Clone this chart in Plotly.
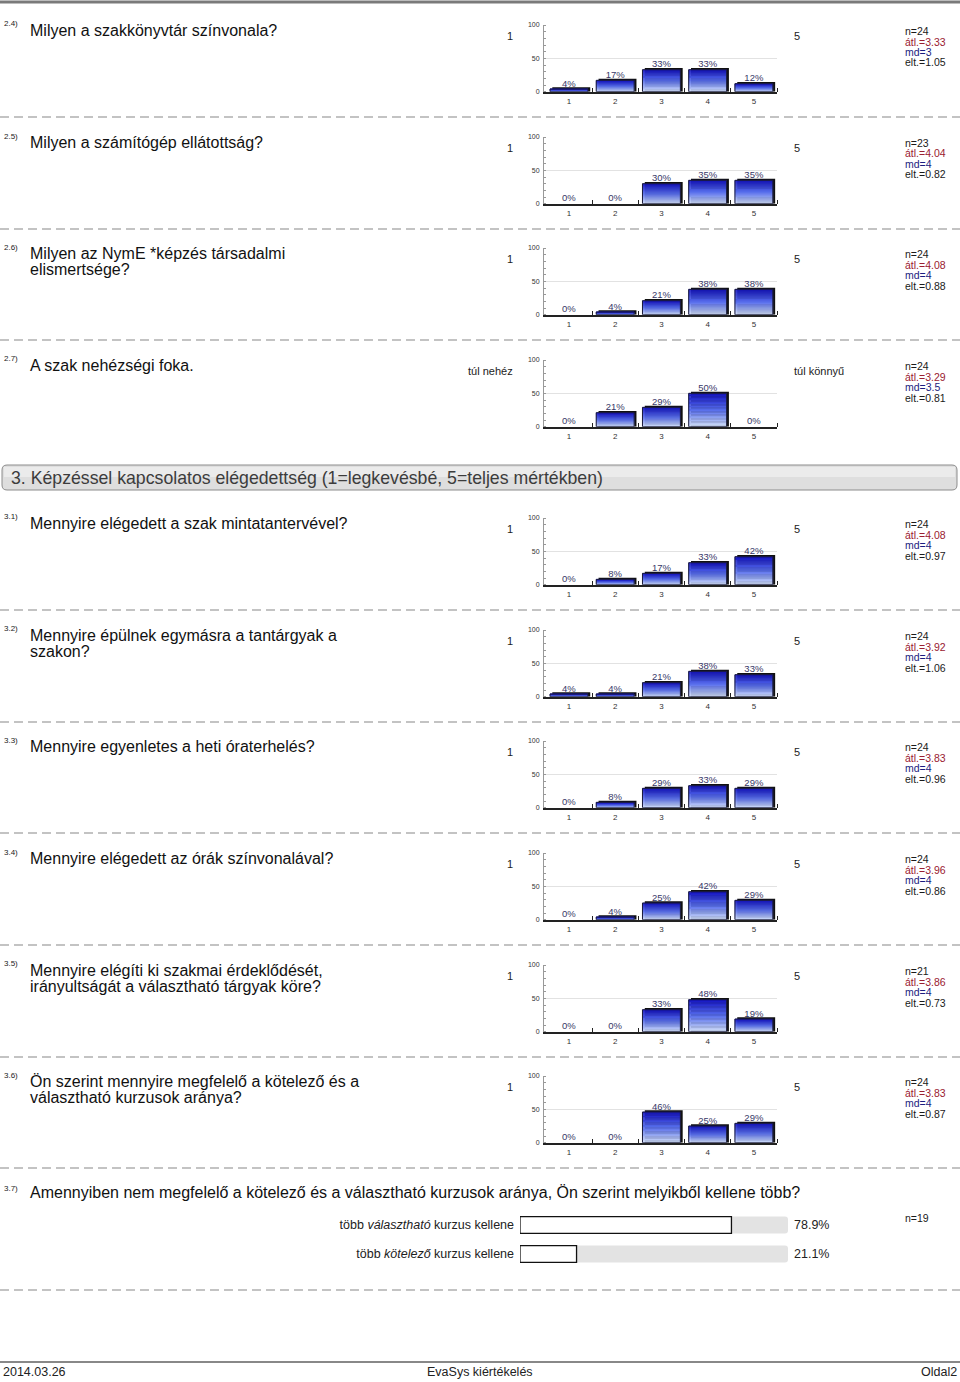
import plotly.graph_objects as go

W, H = 960, 1382
FONT = "Liberation Sans, Arial, sans-serif"

# ---------------- data ----------------
q_ids = ["2.4)", "2.5)", "2.6)", "2.7)", "3.1)", "3.2)", "3.3)", "3.4)", "3.5)", "3.6)"]
q_texts = [
    "Milyen a szakkönyvtár színvonala?",
    "Milyen a számítógép ellátottság?",
    "Milyen az NymE *képzés társadalmi\nelismertsége?",
    "A szak nehézségi foka.",
    "Mennyire elégedett a szak mintatantervével?",
    "Mennyire épülnek egymásra a tantárgyak a\nszakon?",
    "Mennyire egyenletes a heti óraterhelés?",
    "Mennyire elégedett az órák színvonalával?",
    "Mennyire elégíti ki szakmai érdeklődését,\nirányultságát a választható tárgyak köre?",
    "Ön szerint mennyire megfelelő a kötelező és a\nválasztható kurzusok aránya?",
]
left_labels = ["1", "1", "1", "túl nehéz", "1", "1", "1", "1", "1", "1"]
right_labels = ["5", "5", "5", "túl könnyű", "5", "5", "5", "5", "5", "5"]
categories = [1, 2, 3, 4, 5]
pct_values = [
    [4, 17, 33, 33, 12],
    [0, 0, 30, 35, 35],
    [0, 4, 21, 38, 38],
    [0, 21, 29, 50, 0],
    [0, 8, 17, 33, 42],
    [4, 4, 21, 38, 33],
    [0, 8, 29, 33, 29],
    [0, 4, 25, 42, 29],
    [0, 0, 33, 48, 19],
    [0, 0, 46, 25, 29],
]
n_values = [24, 23, 24, 24, 24, 24, 24, 24, 21, 24]
mean_values = [3.33, 4.04, 4.08, 3.29, 4.08, 3.92, 3.83, 3.96, 3.86, 3.83]
median_values = [3, 4, 4, 3.5, 4, 4, 4, 4, 4, 4]
sd_values = [1.05, 0.82, 0.88, 0.81, 0.97, 1.06, 0.96, 0.86, 0.73, 0.87]
y_ticks = [0, 50, 100]

section_title = "3. Képzéssel kapcsolatos elégedettség (1=legkevésbé, 5=teljes mértékben)"

q37_id = "3.7)"
q37_text = ("Amennyiben nem megfelelő a kötelező és a választható kurzusok aránya, "
            "Ön szerint melyikből kellene több?")
q37_options = ["több <i>választható</i> kurzus kellene", "több <i>kötelező</i> kurzus kellene"]
q37_values = [78.9, 21.1]
q37_n = 19

footer_left = "2014.03.26"
footer_mid = "EvaSys kiértékelés"
footer_right = "Oldal2"

# ---------------- layout constants ----------------
block_tops = [25, 137, 248, 360, 518, 630, 741, 853, 965, 1076]
CH = 66.7
AX_L, AX_R = 544, 777


def px(x):
    return x / W


def py(y):
    return 1 - y / H


def lerp(c1, c2, t):
    return tuple(round(a + (b - a) * t) for a, b in zip(c1, c2))


def grad_color(t):
    # t = 0 bottom (light) .. 1 top (dark)
    bot, mid, top = (206, 220, 248), (90, 112, 236), (24, 24, 196)
    if t < 0.5:
        c = lerp(bot, mid, t / 0.5)
    else:
        c = lerp(mid, top, (t - 0.5) / 0.5)
    return "rgb(%d,%d,%d)" % c


fig = go.Figure()
annotations = []
shapes = []
layout_axes = {}
NSEG = 24
BW = 0.82


def ann(x, y, text, size, color="#222", xanchor="left", **kw):
    annotations.append(dict(x=px(x), y=py(y), xref="paper", yref="paper", text=text,
                            showarrow=False, xanchor=xanchor, yanchor="middle",
                            font=dict(size=size, color=color, family=FONT), **kw))


# top line
shapes.append(dict(type="line", xref="paper", yref="paper", x0=0, x1=1, y0=py(2), y1=py(2),
                   line=dict(color="#7a7a7a", width=3)))

for i, vals in enumerate(pct_values):
    k = i + 1
    xa = "x" if k == 1 else f"x{k}"
    ya = "y" if k == 1 else f"y{k}"
    top = block_tops[i]

    # shadow
    fig.add_trace(go.Bar(x=categories, y=[v + 2.5 if v > 0 else None for v in vals],
                         width=BW, offset=-BW / 2 + 0.05,
                         marker=dict(color="#111111", line=dict(width=0)),
                         xaxis=xa, yaxis=ya, hoverinfo="skip", showlegend=False))
    # gradient segments
    for j in range(NSEG):
        col = grad_color(j / (NSEG - 1))
        fig.add_trace(go.Bar(x=categories, y=[v / NSEG if v > 0 else None for v in vals],
                             base=[v * j / NSEG for v in vals], width=BW,
                             marker=dict(color=col, line=dict(width=0.4, color=col)),
                             xaxis=xa, yaxis=ya, hoverinfo="skip", showlegend=False))
    # outline
    fig.add_trace(go.Bar(x=categories, y=[v if v > 0 else None for v in vals], width=BW,
                         marker=dict(color="rgba(0,0,0,0)", line=dict(color="#1a1a3a", width=1)),
                         xaxis=xa, yaxis=ya, hoverinfo="skip", showlegend=False))
    # labels
    fig.add_trace(go.Scatter(x=categories, y=vals, mode="text",
                             text=[f"{v}%" for v in vals], textposition="top center",
                             textfont=dict(size=9.5, color="#383868", family=FONT),
                             cliponaxis=False, xaxis=xa, yaxis=ya,
                             hoverinfo="skip", showlegend=False))

    xkey = "xaxis" if k == 1 else f"xaxis{k}"
    ykey = "yaxis" if k == 1 else f"yaxis{k}"
    layout_axes[xkey] = dict(domain=[px(AX_L), px(AX_R)], anchor=ya, range=[0.46, 5.5],
                             tickvals=categories, ticks="", showline=True, linecolor="#222",
                             linewidth=1.5, showgrid=False, zeroline=False,
                             tickfont=dict(size=8, color="#333", family=FONT),
                             ticklabelstandoff=1, fixedrange=True,
                             minor=dict(tickvals=[1.5, 2.5, 3.5, 4.5, 5.5], ticks="inside",
                                        ticklen=4, tickcolor="#222", showgrid=False))
    layout_axes[ykey] = dict(domain=[py(top + CH), py(top)], anchor=xa, range=[0, 100],
                             tickvals=y_ticks, ticks="", showline=True, linecolor="#999",
                             linewidth=1, showgrid=True, gridcolor="#e2e2e2", zeroline=False,
                             tickfont=dict(size=7, color="#333", family=FONT),
                             ticklabelstandoff=2, fixedrange=True,
                             minor=dict(dtick=10, ticks="inside", ticklen=2,
                                        tickcolor="#999", showgrid=False))

    # texts
    ann(2, top - 1, q_ids[i], 8)
    for li, line in enumerate(q_texts[i].split("\n")):
        ann(28, top + 5.5 + 16 * li, line, 16, color="#111")
    ann(515, top + 11, left_labels[i], 11, xanchor="right")
    ann(792, top + 11, right_labels[i], 11)
    ann(903, top + 6, f"n={n_values[i]}", 10.5, color="#1a1a1a")
    ann(903, top + 16.5, f"átl.={mean_values[i]:.2f}", 10.5, color="#9a2030")
    ann(903, top + 27, f"md={median_values[i]:g}", 10.5, color="#1c1c80")
    ann(903, top + 37.5, f"elt.={sd_values[i]:.2f}", 10.5, color="#1a1a1a")

    if i != 3:
        shapes.append(dict(type="line", xref="paper", yref="paper", x0=0, x1=1,
                           y0=py(top + 92), y1=py(top + 92),
                           line=dict(color="#b0b0b0", width=1.5, dash="9px,5px")))

# section header bar
x0, x1, y0, y1, r = 2, 957, 465, 490, 5
path = (f"M {px(x0 + r)} {py(y0)} L {px(x1 - r)} {py(y0)} "
        f"Q {px(x1)} {py(y0)} {px(x1)} {py(y0 + r)} L {px(x1)} {py(y1 - r)} "
        f"Q {px(x1)} {py(y1)} {px(x1 - r)} {py(y1)} L {px(x0 + r)} {py(y1)} "
        f"Q {px(x0)} {py(y1)} {px(x0)} {py(y1 - r)} L {px(x0)} {py(y0 + r)} "
        f"Q {px(x0)} {py(y0)} {px(x0 + r)} {py(y0)} Z")
shapes.append(dict(type="path", xref="paper", yref="paper", path=path,
                   fillcolor="#dedede", line=dict(color="#8c8c8c", width=1), layer="below"))
shapes.append(dict(type="rect", xref="paper", yref="paper", x0=px(4), x1=px(955),
                   y0=py(467), y1=py(477), fillcolor="#ebebeb", line=dict(width=0),
                   layer="below"))
ann(9, 477.5, section_title, 17.7, color="#3c3c3c")

# question 3.7
ann(2, 1188, q37_id, 8)
ann(28, 1192.5, q37_text, 16, color="#111")
fig.add_trace(go.Bar(y=q37_options, x=[100] * len(q37_options), orientation="h", width=0.58,
                     marker=dict(color="#e3e3e3", line=dict(width=0), cornerradius=3),
                     xaxis="x11", yaxis="y11", hoverinfo="skip", showlegend=False))
fig.add_trace(go.Bar(y=q37_options, x=q37_values, orientation="h", width=0.58,
                     marker=dict(color="white", line=dict(color="#111", width=1.3), cornerradius=4),
                     xaxis="x11", yaxis="y11", hoverinfo="skip", showlegend=False))
layout_axes["xaxis11"] = dict(domain=[px(520), px(788)], anchor="y11", range=[0, 100],
                              visible=False, fixedrange=True)
layout_axes["yaxis11"] = dict(domain=[py(1268.5), py(1210.5)], anchor="x11",
                              autorange="reversed", showline=False, showgrid=False,
                              zeroline=False, ticks="", ticklabelstandoff=5,
                              tickfont=dict(size=12.5, color="#222", family=FONT),
                              fixedrange=True)
for oi, v in enumerate(q37_values):
    ann(792, 1225 + 29 * oi, f"{v:.1f}%", 12.5, color="#222")
ann(903, 1218, f"n={q37_n}", 10.5, color="#1a1a1a")
shapes.append(dict(type="line", xref="paper", yref="paper", x0=0, x1=1,
                   y0=py(1290), y1=py(1290),
                   line=dict(color="#b0b0b0", width=1.5, dash="9px,5px")))

# footer
shapes.append(dict(type="line", xref="paper", yref="paper", x0=0, x1=1, y0=py(1362), y1=py(1362),
                   line=dict(color="#888", width=2)))
ann(1, 1372, footer_left, 12.5)
ann(480, 1372, footer_mid, 12.5, xanchor="center")
ann(959, 1372, footer_right, 12.5, xanchor="right")

fig.update_layout(width=W, height=H, autosize=False,
                  margin=dict(l=0, r=0, t=0, b=0, pad=0, autoexpand=False),
                  paper_bgcolor="white", plot_bgcolor="white", barmode="overlay",
                  annotations=annotations, shapes=shapes, showlegend=False,
                  font=dict(family=FONT), **layout_axes)

fig.write_html("out.html")
